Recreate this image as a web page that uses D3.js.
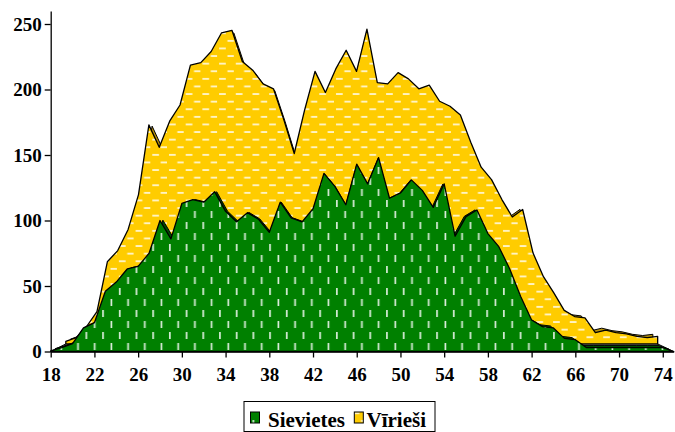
<!DOCTYPE html>
<html>
<head>
<meta charset="utf-8">
<script src="https://cdn.jsdelivr.net/npm/d3@7"></script>
<style>
  body { margin: 0; background: #fff; }
  svg { display: block; font-family: "Liberation Serif", "Times New Roman", serif; font-weight: bold; }
</style>
</head>
<body>
<svg id="chart" width="675" height="432"></svg>
<script>
// ages on the category axis
const ages = [18,19,20,21,22,23,24,25,26,27,28,29,30,31,32,33,34,35,36,37,38,39,40,41,42,43,44,45,46,
              47,48,49,50,51,52,53,54,55,56,57,58,59,60,61,62,63,64,65,66,67,68,69,70,71,72,73,74,75];

// women (front row of the 3d area)
const sievietes = [0.5,3,6,18,22,46,53,63,65,75,
                   100,86,113,116,114,122,107,99,106,101,
                   91,114,102,99,109,136,126,112,143,128,
                   148,117,121,131,123,110,128,88,103,108,
                   90,80,63,42,24,19,18,10,9,3,
                   3,3,3,3,3,3,3,0];

// men (back row)
const viriesi = [2,5,14,26,66,75,92,120,176,158,
                 179,192,224,226,235,250,252,227,220,209,
                 205,180,153,188,219,202,221,236,219,253,
                 210,209,218,213,205,208,195,191,184,162,
                 142,132,116,102,108,73,54,41,27,22,
                 21,9,11,9,8,6,5,6];

const xTicks = [18,22,26,30,34,38,42,46,50,54,58,62,66,70,74];
const yTicks = [0,50,100,150,200,250];
const seriesNames = ["Sievietes", "Vīrieši"];

const svg = d3.select("#chart");

const x = d3.scaleLinear().domain([18, 75]).range([50.7, 673.7]);
const y = d3.scaleLinear().domain([0, 260]).range([351.5, 10.9]);

// fake perspective: things further back shrink towards this point
const vx = 353, vy = 200;
function proj(k) {
  return (a, v) => [vx + k * (x(a) - vx), vy + k * (y(v) - vy)];
}

function rowArea(k) {
  const p = proj(k);
  return d3.area()
    .x0(d => p(d.a, 0)[0]).y0(d => p(d.a, 0)[1])
    .x1(d => p(d.a, d.v)[0]).y1(d => p(d.a, d.v)[1]);
}

const womenData = ages.map((a, i) => ({ a: a, v: sievietes[i] }));
const menData = ages.map((a, i) => ({ a: a, v: viriesi[i] }));

// patterns
const defs = svg.append("defs");
const pg = defs.append("pattern").attr("id", "pat-green")
  .attr("patternUnits", "userSpaceOnUse").attr("width", 16.7).attr("height", 22);
pg.append("rect").attr("width", 16.7).attr("height", 22).attr("fill", "#008000");
pg.append("rect").attr("x", 2).attr("y", 2).attr("width", 1.7).attr("height", 7).attr("fill", "#fff").attr("opacity", 0.85);
pg.append("rect").attr("x", 10.35).attr("y", 13).attr("width", 1.7).attr("height", 7).attr("fill", "#fff").attr("opacity", 0.85);

const py = defs.append("pattern").attr("id", "pat-yellow")
  .attr("patternUnits", "userSpaceOnUse").attr("width", 16.7).attr("height", 15.2);
py.append("rect").attr("width", 16.7).attr("height", 15.2).attr("fill", "#ffcc00");
py.append("rect").attr("x", 2).attr("y", 2).attr("width", 6.7).attr("height", 1.7).attr("fill", "#fff").attr("opacity", 0.85);
py.append("rect").attr("x", 10.35).attr("y", 9.6).attr("width", 6.7).attr("height", 1.7).attr("fill", "#fff").attr("opacity", 0.85);

// floor
const pf = proj(1), pb = proj(0.93);
const floorPts = [pf(18, 0), pf(75, 0), pb(75, 0), pb(18, 0)];
svg.append("path")
  .attr("d", d3.line()(floorPts) + "Z")
  .attr("fill", "#808080").attr("stroke", "#000").attr("stroke-width", 1);

// men row: back face (top surface shows as darker strip), then front face
svg.append("path").datum(menData)
  .attr("d", rowArea(0.935))
  .attr("fill", "#b8920a").attr("stroke", "#000").attr("stroke-width", 1).attr("stroke-linejoin", "round");
svg.append("path").datum(menData)
  .attr("d", rowArea(0.95))
  .attr("fill", "url(#pat-yellow)").attr("stroke", "#000").attr("stroke-width", 1.3).attr("stroke-linejoin", "round");

// women row
svg.append("path").datum(womenData)
  .attr("d", rowArea(0.985))
  .attr("fill", "#004d00").attr("stroke", "#000").attr("stroke-width", 1).attr("stroke-linejoin", "round");
svg.append("path").datum(womenData)
  .attr("d", rowArea(1))
  .attr("fill", "url(#pat-green)").attr("stroke", "#000").attr("stroke-width", 1.3).attr("stroke-linejoin", "round");

// axes
const yAxis = svg.append("g")
  .attr("transform", "translate(" + x(18) + ",0)")
  .call(d3.axisLeft(y).tickValues(yTicks).tickSize(6).tickSizeOuter(0).tickPadding(3));
const xAxis = svg.append("g")
  .attr("transform", "translate(0," + y(0) + ")")
  .call(d3.axisBottom(x).tickValues(xTicks).tickSize(6).tickSizeOuter(0).tickPadding(10));

[yAxis, xAxis].forEach(g => {
  g.selectAll("path, line").attr("stroke", "#000").attr("stroke-width", 1.3);
  g.selectAll("text").attr("fill", "#000")
    .style("font-family", "'Liberation Serif', 'Times New Roman', serif")
    .style("font-weight", "bold").style("font-size", "19px");
});
yAxis.selectAll("text").attr("dy", "0.34em");

// legend
const legend = svg.append("g");
legend.append("rect")
  .attr("x", 244).attr("y", 401.5).attr("width", 191).attr("height", 30)
  .attr("fill", "#fff").attr("stroke", "#000").attr("stroke-width", 1);

const legendItems = [
  { name: seriesNames[0], fill: "url(#pat-green)", sx: 250.5, tx: 268 },
  { name: seriesNames[1], fill: "url(#pat-yellow)", sx: 354.3, tx: 366.5 }
];
legendItems.forEach(d => {
  legend.append("rect")
    .attr("x", d.sx).attr("y", 412).attr("width", 9).attr("height", 11)
    .attr("fill", d.fill).attr("stroke", "#000").attr("stroke-width", 1);
  legend.append("text")
    .attr("x", d.tx).attr("y", 427)
    .style("font-size", "21px")
    .text(d.name);
});
</script>
</body>
</html>
